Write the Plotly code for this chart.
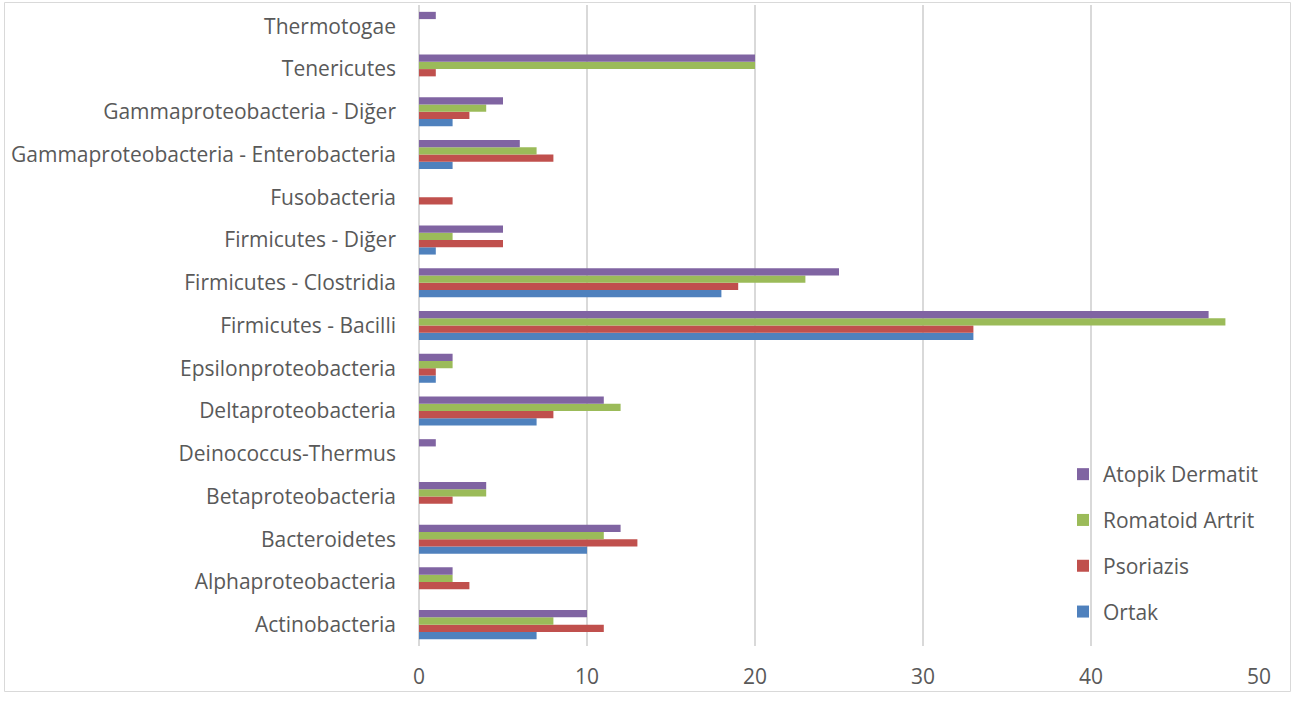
import plotly.graph_objects as go

categories = ["Actinobacteria", "Alphaproteobacteria", "Bacteroidetes", "Betaproteobacteria",
              "Deinococcus-Thermus", "Deltaproteobacteria", "Epsilonproteobacteria",
              "Firmicutes - Bacilli", "Firmicutes - Clostridia", "Firmicutes - Diğer",
              "Fusobacteria", "Gammaproteobacteria - Enterobacteria",
              "Gammaproteobacteria - Diğer", "Tenericutes", "Thermotogae"]
ortak = [7, 0, 10, 0, 0, 7, 1, 33, 18, 1, 0, 2, 2, 0, 0]
psoriazis = [11, 3, 13, 2, 0, 8, 1, 33, 19, 5, 2, 8, 3, 1, 0]
romatoid = [8, 2, 11, 4, 0, 12, 2, 48, 23, 2, 0, 7, 4, 20, 0]
atopik = [10, 2, 12, 4, 1, 11, 2, 47, 25, 5, 0, 6, 5, 20, 1]

series = [("Ortak", ortak, "#4F81BD"), ("Psoriazis", psoriazis, "#C0504D"),
          ("Romatoid Artrit", romatoid, "#9BBB59"), ("Atopik Dermatit", atopik, "#8064A2")]

FONT = "Open Sans"
FS = 21
fig = go.Figure()
for i, (name, vals, col) in enumerate(series):
    fig.add_trace(go.Bar(y=categories, x=vals, name=name, orientation="h",
                         marker=dict(color=col, line=dict(width=0)), legendgroup=name,
                         legendrank=len(series) - i))

W, H = 1296, 701
L, R, T, B = 419, 37, 5, 55
pw, ph = W - L - R, H - T - B

def px(x):
    return (x - L) / pw

def py(y):
    return (H - B - y) / ph

fig.update_layout(
    width=W, height=H, margin=dict(l=L, r=R, t=T, b=B),
    paper_bgcolor="white", plot_bgcolor="white",
    barmode="group", bargap=0.32, bargroupgap=0,
    font=dict(family=FONT, size=FS, color="#595959"),
    xaxis=dict(range=[0, 50], dtick=10, showgrid=True, gridcolor="#D9D9D9", gridwidth=1.5,
               zeroline=True, zerolinecolor="#D9D9D9", zerolinewidth=1.5, showline=False,
               ticks="", ticklabelstandoff=16, tickfont=dict(size=FS, color="#595959")),
    yaxis=dict(categoryorder="array", categoryarray=categories, showgrid=False,
               zeroline=False, showline=False, ticks="", ticklabelstandoff=22,
               tickfont=dict(size=FS, color="#595959")),
    legend=dict(x=px(1063), y=py(454), xanchor="left", yanchor="top",
                traceorder="grouped", tracegroupgap=15.5,
                bgcolor="rgba(0,0,0,0)", font=dict(size=FS, color="#595959")),
    showlegend=True,
    shapes=[dict(type="rect", xref="paper", yref="paper",
                 x0=px(4.5), x1=px(1290.5), y0=py(691.5), y1=py(2.5),
                 line=dict(color="#D9D9D9", width=1), layer="below")],
)

fig.write_html("out.html")
